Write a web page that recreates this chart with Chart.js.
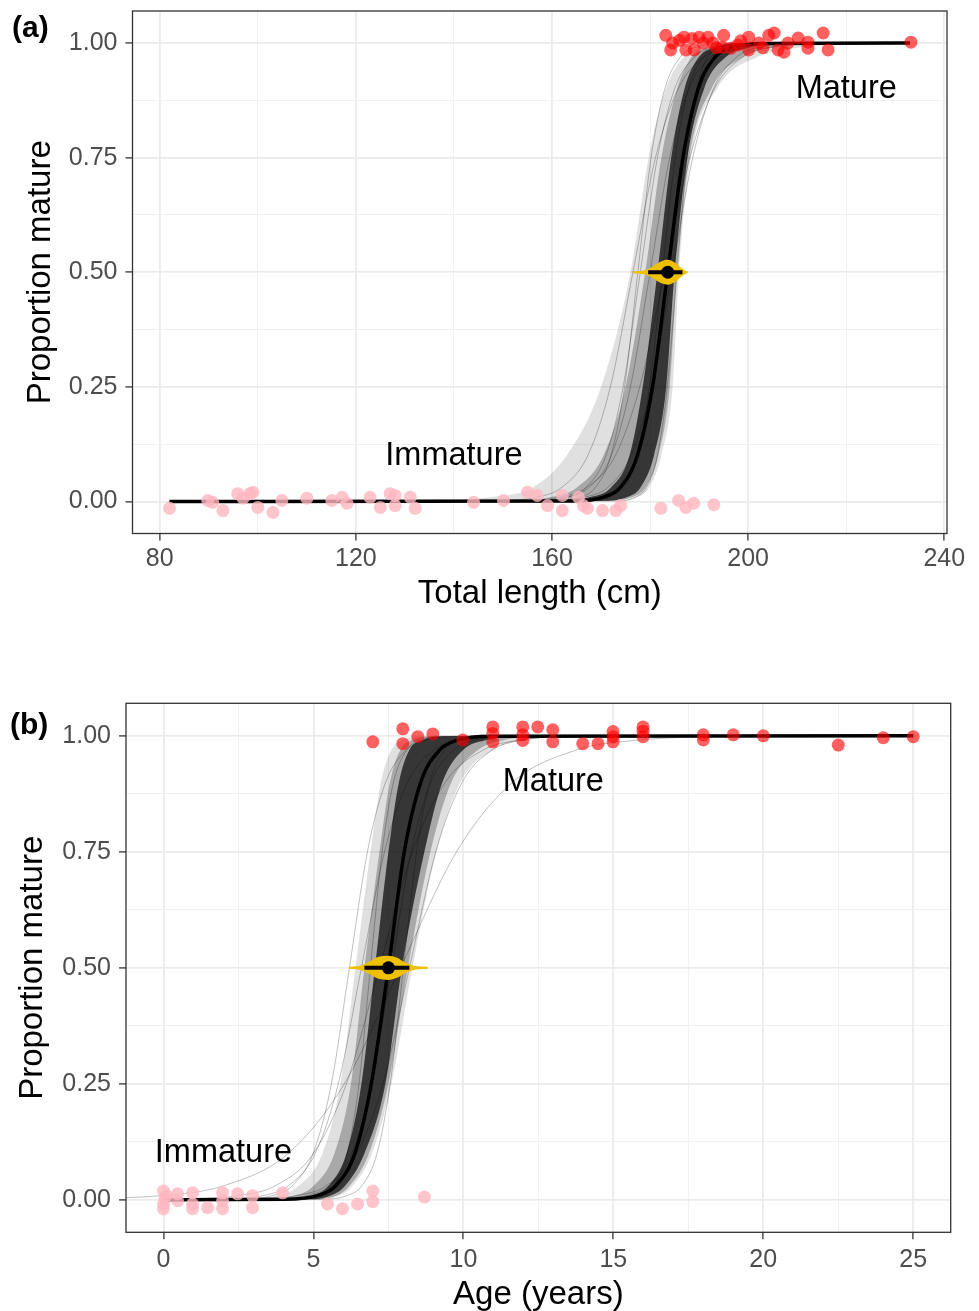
<!DOCTYPE html>
<html>
<head>
<meta charset="utf-8">
<script src="https://cdn.jsdelivr.net/npm/chart.js@4.4.1/dist/chart.umd.min.js"></script>
<style>
  html, body { margin: 0; padding: 0; background: #fff; overflow: hidden; }
  #wrap { position: relative; width: 979px; height: 1311px; overflow: hidden; }
  .panel { position: absolute; left: 0; width: 979px; }
  #panelA { top: 0; height: 640px; }
  #panelB { top: 650px; height: 700px; }
</style>
</head>
<body>
<div id="wrap">
  <div class="panel" id="panelA"><canvas id="chartA" width="979" height="640"></canvas></div>
  <div class="panel" id="panelB"><canvas id="chartB" width="979" height="700"></canvas></div>
</div>
<script>
const FONT = '"Liberation Sans", Arial, Helvetica, sans-serif';
const RED = "rgba(255, 0, 0, 0.62)";
const PINK = "rgba(255, 182, 193, 0.8)";
const YELLOW = "#EFC000";

const pLevels = [0.001, 0.01, 0.03, 0.1, 0.25, 0.5, 0.75, 0.9, 0.97, 0.99, 0.999];
const propTicks = [0, 0.125, 0.25, 0.375, 0.5, 0.625, 0.75, 0.875, 1];
const propMajor = [0, 0.25, 0.5, 0.75, 1];

// ---- (a) total length ----
const lenRange = [82, 233];
const lenTicks = [80, 100, 120, 140, 160, 180, 200, 220, 240];
const lenMajor = [80, 120, 160, 200, 240];

const lenMedian = [164.3, 170.7, 173.9, 177.4, 180.5, 183.6, 186.7, 189.8, 193.3, 196.5, 202.9];
const lenOuterL = [135, 148, 156, 163, 170, 176, 179.7, 183.2, 186.9, 190, 196];
const lenOuterR = [172, 177.5, 179.8, 182.3, 184.6, 185.9, 188.3, 193.6, 202, 210, 222];
const lenMidL = [150, 160, 165, 170.5, 175, 179, 182.3, 185.5, 188.5, 191.5, 197];
const lenMidR = [171, 176.5, 179, 181.7, 184, 185.5, 188, 192.5, 199, 205, 215];
const lenCoreL = [160, 168, 172, 175.8, 178.5, 181.5, 184.3, 187, 190, 193, 198];
const lenCoreR = [170, 175.5, 178, 180.8, 183.3, 185, 187.6, 191, 195.5, 200, 208];
const lenDraws = [
  [147.5, 157.2, 161.9, 167.3, 171.9, 176.5, 181.1, 185.7, 191.1, 195.8, 205.5],
  [155.9, 163.3, 166.9, 171, 174.5, 178, 181.5, 185, 189.1, 192.7, 200.1],
  [155.2, 163.4, 167.5, 172.1, 176, 180, 184, 187.9, 192.5, 196.6, 204.8],
  [165.9, 171.5, 174.1, 177.2, 179.9, 182.5, 185.1, 187.8, 190.9, 193.5, 199.1],
  [158.3, 167, 171.3, 176.1, 180.3, 184.5, 188.7, 192.9, 197.7, 202, 210.7],
  [173.1, 177.2, 179.2, 181.5, 183.5, 185.5, 187.5, 189.5, 191.8, 193.8, 197.9],
  [160.2, 166, 168.8, 172, 174.8, 177.5, 180.2, 183, 186.2, 189, 194.8],
  [151.3, 161.8, 167, 172.9, 177.9, 183, 188.1, 193.1, 199, 204.2, 214.7]
];
const lenEyeX = [176.6, 179.2, 180.8, 182.4, 183.6, 185.0, 186.1, 187.0, 187.6];
const lenEyeH = [0, 0.003, 0.012, 0.022, 0.025, 0.019, 0.009, 0.002, 0];
const lenL50 = 183.6;
const lenCI = [179.6, 186.6];

const matureLen = [
  [183.2, 1.017], [184.6, 1.0], [184.2, 0.985], [186.0, 1.006], [186.9, 1.013], [187.3, 0.985],
  [188.5, 1.01], [189.0, 0.985], [190.0, 1.013], [190.8, 1.0], [191.8, 1.013], [192.8, 1.0],
  [193.5, 0.99], [194.8, 0.991], [195.0, 1.017], [196.5, 0.989], [197.9, 0.996], [198.5, 1.005],
  [200.1, 1.013], [200.1, 0.985], [202.2, 1.0], [203.0, 0.99], [204.2, 1.017], [205.3, 1.022],
  [206.1, 0.985], [207.3, 0.98], [208.1, 1.0], [210.2, 1.011], [212.2, 1.002], [212.2, 0.989],
  [215.3, 1.022], [216.3, 0.985], [233.2, 1.002]
];
const immatureLen = [
  [82.0, -0.015], [89.8, 0.002], [90.8, -0.002], [92.9, -0.02], [95.9, 0.017], [97.0, 0.007],
  [98.4, 0.017], [99.0, 0.02], [100.0, -0.013], [103.1, -0.024], [104.9, 0.002], [110.0, 0.007],
  [115.1, 0.002], [117.2, 0.009], [118.2, -0.004], [122.9, 0.009], [125.0, -0.013], [127.0, 0.017],
  [128.0, 0.013], [128.0, -0.009], [131.1, 0.009], [132.1, -0.015], [144.0, -0.002], [150.1, 0.002],
  [155.0, 0.02], [157.0, 0.013], [159.1, -0.009], [162.1, 0.013], [162.1, -0.02], [165.4, 0.009],
  [166.4, -0.009], [167.2, -0.015], [170.3, -0.02], [173.0, -0.02], [174.0, -0.009], [182.2, -0.015],
  [185.8, 0.002], [187.3, -0.013], [188.9, -0.004], [193.0, -0.007]
];

// ---- (b) age ----
const ageRange = [0, 25];
const ageTicks = [0, 2.5, 5, 7.5, 10, 12.5, 15, 17.5, 20, 22.5, 25];
const ageMajor = [0, 5, 10, 15, 20, 25];

const ageMedian = [4.03, 5.18, 5.74, 6.38, 6.93, 7.5, 8.03, 8.58, 9.22, 9.78, 10.93];
const ageOuterL = [2.5, 3.8, 4.5, 5.3, 5.9, 6.4, 6.9, 7.25, 7.6, 7.95, 8.6];
const ageOuterR = [5.0, 5.9, 6.3, 6.95, 7.6, 8.3, 9.1, 9.9, 11, 12, 14];
const ageMidL = [3.3, 4.4, 5.0, 5.7, 6.25, 6.7, 7.2, 7.55, 7.9, 8.25, 8.9];
const ageMidR = [4.95, 5.8, 6.2, 6.85, 7.5, 8.15, 8.9, 9.6, 10.5, 11.3, 13];
const ageCoreL = [4.2, 5.0, 5.5, 6.1, 6.6, 7.05, 7.5, 7.85, 8.2, 8.6, 9.3];
const ageCoreR = [4.9, 5.6, 6.05, 6.7, 7.4, 7.95, 8.7, 9.3, 10.0, 10.7, 12.0];
const ageDraws = [
  [-3.84, 0.08, 1.99, 4.16, 6.03, 7.9, 9.77, 11.64, 13.81, 15.72, 19.64],
  [0.3, 2.6, 3.72, 5.0, 6.1, 7.2, 8.3, 9.4, 10.68, 11.8, 14.1],
  [1.77, 3.38, 4.16, 5.06, 5.83, 6.6, 7.37, 8.14, 9.04, 9.82, 11.43],
  [2.68, 4.52, 5.42, 6.44, 7.32, 8.2, 9.08, 9.96, 10.98, 11.88, 13.72],
  [4.48, 5.29, 5.68, 6.13, 6.52, 6.9, 7.29, 7.67, 8.12, 8.51, 9.32],
  [5.24, 6.16, 6.61, 7.12, 7.56, 8.0, 8.44, 8.88, 9.39, 9.84, 10.76],
  [3.46, 4.84, 5.51, 6.28, 6.94, 7.6, 8.26, 8.92, 9.69, 10.36, 11.74],
  [2.4, 3.67, 4.29, 4.99, 5.6, 6.2, 6.8, 7.41, 8.11, 8.73, 10.0]
];
const ageEyeX = [6.2, 6.6, 6.9, 7.15, 7.5, 7.8, 8.0, 8.3, 8.8];
const ageEyeH = [0, 0.003, 0.012, 0.021, 0.024, 0.019, 0.011, 0.003, 0];
const ageL50 = 7.5;
const ageCI = [6.7, 8.2];

const matureAge = [
  [6.98, 0.987], [7.98, 1.015], [7.98, 0.983], [8.48, 0.998], [8.98, 1.004], [9.98, 0.991],
  [10.98, 1.019], [10.98, 0.987], [10.98, 1.005], [11.98, 1.019], [11.98, 1.002], [11.98, 0.99],
  [12.48, 1.019], [12.98, 1.013], [12.98, 0.987], [13.98, 0.983], [14.49, 0.983], [14.99, 1.009],
  [14.99, 0.987], [14.99, 0.998], [15.99, 1.019], [15.99, 0.998], [15.99, 1.01], [18, 1.002],
  [18, 0.991], [19, 1.002], [20, 1.0], [22.5, 0.98], [24, 0.996], [25, 0.998]
];
const immatureAge = [
  [0, 0.019], [0, -0.009], [0, -0.019], [0.1, 0.009], [0.05, 0.003], [0.47, 0.013], [0.47, -0.002],
  [0.97, 0.015], [0.97, -0.009], [0.97, -0.019], [1.47, -0.017], [1.97, 0.015], [1.97, -0.002],
  [1.97, -0.019], [2.47, 0.013], [2.97, 0.009], [2.97, -0.017], [3.97, 0.015], [5.47, -0.009],
  [5.97, -0.019], [6.47, -0.009], [6.98, 0.019], [6.98, -0.004], [8.7, 0.006]
];

// border, panel tag and the Mature / Immature notes
const panelDecor = {
  id: "panelDecor",
  afterDatasetsDraw(chart, args, opts) {
    const { ctx, scales: { x, y } } = chart;
    ctx.save();
    ctx.fillStyle = "#000";
    ctx.font = `32.5px ${FONT}`;
    ctx.textAlign = "center";
    ctx.textBaseline = "middle";
    opts.notes.forEach(n => ctx.fillText(n.text, x.getPixelForValue(n.x), y.getPixelForValue(n.y)));
    ctx.restore();
  },
  afterDraw(chart, args, opts) {
    const { ctx, chartArea: a } = chart;
    ctx.save();
    ctx.strokeStyle = "#333";
    ctx.lineWidth = 1.3;
    ctx.strokeRect(a.left, a.top, a.right - a.left, a.bottom - a.top);
    ctx.fillStyle = "#000";
    ctx.font = `bold 30px ${FONT}`;
    ctx.textAlign = "left";
    ctx.textBaseline = "middle";
    ctx.fillText(opts.tag, opts.tagX, opts.tagY);
    ctx.restore();
  }
};

// keep label overflow from pushing the plot area around
const noScalePad = s => { s.paddingTop = 0; s.paddingBottom = 0; s.paddingLeft = 0; s.paddingRight = 0; };

function makePanel(canvasId, p) {
  const curve = xs => {
    const pts = xs.map((x, i) => ({ x, y: pLevels[i] }));
    if (p.range[0] < xs[0]) pts.unshift({ x: p.range[0], y: 0 });
    if (p.range[1] > xs[xs.length - 1]) pts.push({ x: p.range[1], y: 1 });
    return pts;
  };
  const pairs = arr => arr.map(([x, y]) => ({ x, y }));
  const line = (data, extra) => Object.assign({
    data, pointRadius: 0, borderWidth: 0.5, borderColor: "rgba(0,0,0,0)",
    cubicInterpolationMode: "monotone", fill: false
  }, extra);

  const ds = [];
  ds.push({ data: pairs(p.mature), showLine: false, pointRadius: 6.5, pointBorderWidth: 0,
            backgroundColor: RED, pointBackgroundColor: RED, order: 0 });
  ds.push({ data: pairs(p.immature), showLine: false, pointRadius: 6.5, pointBorderWidth: 0,
            backgroundColor: PINK, pointBackgroundColor: PINK, order: 0 });
  ds.push({ data: [{ x: p.l50, y: 0.5 }], showLine: false, pointRadius: 6.5, pointBorderWidth: 0,
            backgroundColor: "#000", pointBackgroundColor: "#000", order: 1 });
  ds.push(line([{ x: p.ci[0], y: 0.5 }, { x: p.ci[1], y: 0.5 }],
               { borderColor: "#000", borderWidth: 4, cubicInterpolationMode: "default", order: 2 }));
  const iLow = ds.length;
  ds.push(line(p.eyeX.map((x, i) => ({ x, y: 0.5 - p.eyeH[i] })),
               { borderColor: YELLOW, borderWidth: 2, order: 3 }));
  ds.push(line(p.eyeX.map((x, i) => ({ x, y: 0.5 + p.eyeH[i] })),
               { borderColor: YELLOW, borderWidth: 2, backgroundColor: YELLOW, fill: iLow, order: 3 }));
  ds.push(line(curve(p.median), { borderColor: "#000", borderWidth: 3.5, order: 4 }));
  p.draws.forEach(d => ds.push(line(curve(d), { borderColor: "rgba(0,0,0,0.25)", borderWidth: 1, order: 5 })));
  const band = (left, right, color, order) => {
    const iR = ds.length;
    ds.push(line(curve(right), { order }));
    ds.push(line(curve(left), { order, fill: iR, backgroundColor: color }));
  };
  band(p.coreL, p.coreR, "rgba(0,0,0,0.68)", 6);
  band(p.midL, p.midR, "rgba(0,0,0,0.25)", 7);
  band(p.outerL, p.outerR, "rgba(0,0,0,0.12)", 8);

  const gridOpts = majors => ({
    color: c => c.tick && majors.includes(c.tick.value) ? "#ebebeb" : "#f0f0f0",
    lineWidth: c => c.tick && majors.includes(c.tick.value) ? 1.8 : 1.0,
    tickColor: c => c.tick && majors.includes(c.tick.value) ? "#333" : "rgba(0,0,0,0)",
    tickWidth: 1.3,
    tickLength: 7
  });

  new Chart(document.getElementById(canvasId), {
    type: "line",
    data: { datasets: ds },
    plugins: [panelDecor],
    options: {
      responsive: false,
      animation: false,
      events: [],
      layout: { padding: p.padding, autoPadding: false },
      plugins: {
        legend: { display: false },
        tooltip: { enabled: false },
        panelDecor: { notes: p.notes, tag: p.tag, tagX: p.tagX, tagY: p.tagY }
      },
      scales: {
        x: {
          type: "linear", min: p.xMin, max: p.xMax,
          afterBuildTicks: s => { s.ticks = p.xTicks.map(v => ({ value: v })); },
          afterFit: s => { s.height = p.xAxisH; noScalePad(s); },
          ticks: { autoSkip: false, maxRotation: 0, padding: p.xPad, color: "#4d4d4d",
                   font: { family: FONT, size: 25 },
                   callback: v => p.xMajor.includes(v) ? String(v) : "" },
          grid: gridOpts(p.xMajor),
          border: { display: false },
          title: { display: true, text: p.xTitle, color: "#000",
                   font: { family: FONT, size: 33 }, padding: { top: 0, bottom: p.xTitlePad } }
        },
        y: {
          type: "linear", min: -0.07, max: 1.07,
          afterBuildTicks: s => { s.ticks = propTicks.map(v => ({ value: v })); },
          afterFit: s => { s.width = p.yAxisW; noScalePad(s); },
          ticks: { autoSkip: false, padding: 8, color: "#4d4d4d",
                   font: { family: FONT, size: 25 },
                   callback: v => propMajor.includes(v) ? v.toFixed(2) : "" },
          grid: gridOpts(propMajor),
          border: { display: false },
          title: { display: true, text: "Proportion mature", color: "#000",
                   font: { family: FONT, size: 33 }, padding: { top: p.yTitlePad, bottom: 0 } }
        }
      }
    }
  });
}

makePanel("chartA", {
  range: lenRange, xMin: 74.45, xMax: 240.55, xTicks: lenTicks, xMajor: lenMajor,
  median: lenMedian, outerL: lenOuterL, outerR: lenOuterR, midL: lenMidL, midR: lenMidR,
  coreL: lenCoreL, coreR: lenCoreR, draws: lenDraws,
  eyeX: lenEyeX, eyeH: lenEyeH, l50: lenL50, ci: lenCI,
  mature: matureLen, immature: immatureLen,
  xTitle: "Total length (cm)",
  notes: [{ text: "Mature", x: 220, y: 0.9 }, { text: "Immature", x: 140, y: 0.1 }],
  tag: "(a)", tagX: 12, tagY: 29,
  padding: { top: 11, right: 32, left: 0, bottom: 0 },
  yAxisW: 132.5, xAxisH: 106.5, xPad: 4, xTitlePad: 26, yTitlePad: 21
});

makePanel("chartB", {
  range: ageRange, xMin: -1.25, xMax: 26.25, xTicks: ageTicks, xMajor: ageMajor,
  median: ageMedian, outerL: ageOuterL, outerR: ageOuterR, midL: ageMidL, midR: ageMidR,
  coreL: ageCoreL, coreR: ageCoreR, draws: ageDraws,
  eyeX: ageEyeX, eyeH: ageEyeH, l50: ageL50, ci: ageCI,
  mature: matureAge, immature: immatureAge,
  xTitle: "Age (years)",
  notes: [{ text: "Mature", x: 13, y: 0.9 }, { text: "Immature", x: 2, y: 0.1 }],
  tag: "(b)", tagX: 10, tagY: 76,
  padding: { top: 53.3, right: 28.3, left: 0, bottom: 0 },
  yAxisW: 126, xAxisH: 117.7, xPad: 6, xTitlePad: 35.6, yTitlePad: 13
});
</script>
</body>
</html>
